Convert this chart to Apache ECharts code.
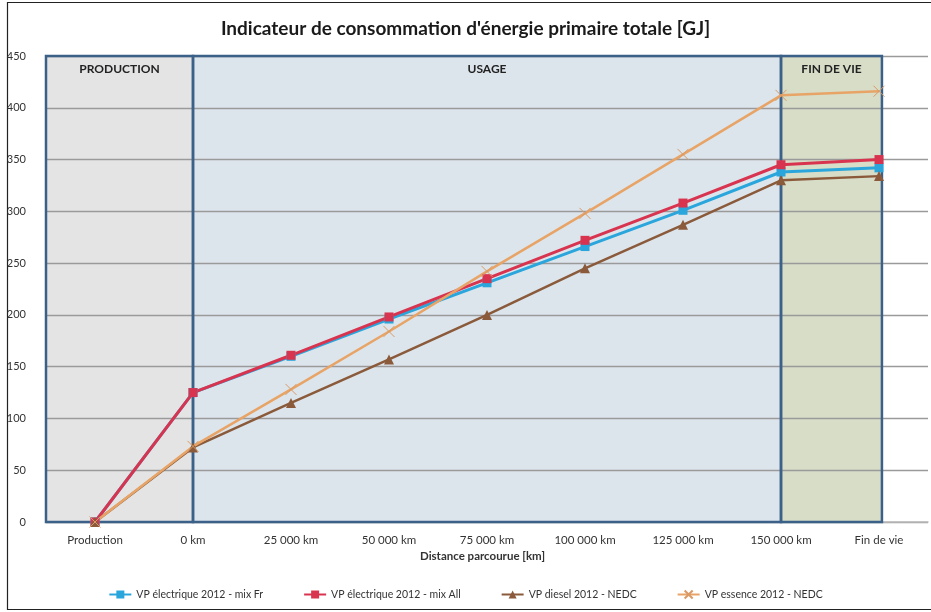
<!DOCTYPE html>
<html><head><meta charset="utf-8">
<script src="https://cdn.jsdelivr.net/npm/echarts@6/dist/echarts.min.js"></script>
<style>html,body{margin:0;padding:0;background:#fff}#c{width:931px;height:612px}</style>
</head><body><div id="c"></div>
<script>
const categories = ['Production','0 km','25 000 km','50 000 km','75 000 km','100 000 km','125 000 km','150 000 km','Fin de vie'];
const elecFr = [0,125,160,196,231,266,301,338,342];
const elecAll = [0,125,161,198,235,272,308,345,350];
const diesel = [0,72,115,157,200,245,287,330,334];
const essence = [0,73,128,184,242,298,355,412,416];
const seriesNames = ['VP électrique 2012 - mix Fr','VP électrique 2012 - mix All','VP diesel 2012 - NEDC','VP essence 2012 - NEDC'];
const phases = [
  {name:'PRODUCTION', from:-0.5, to:1, color:'#e4e4e4'},
  {name:'USAGE', from:1, to:7, color:'#dce5ec'},
  {name:'FIN DE VIE', from:7, to:8.03, color:'#d7ddc7'}
];
const font = 'Lato, "Open Sans", sans-serif';
const chart = echarts.init(document.getElementById('c'));
const cross = 'path://M0,0L10,10M10,0L0,10';
function lineSeries(name, data, color, symbol, size, width, extra) {
  return Object.assign({
    name, type:'line', data, xAxisIndex:0, yAxisIndex:0,
    symbol, symbolSize:size, showSymbol:true,
    lineStyle:{color, width},
    itemStyle:{color},
    z:3
  }, extra||{});
}
chart.setOption({
  animation:false,
  textStyle:{fontFamily:font},
  title:{text:"Indicateur de consommation d'énergie primaire totale [GJ]", left:'center', top:14,
    textStyle:{fontFamily:font, fontSize:19, fontWeight:'bold', color:'#1a1a1a'}},
  grid:{left:46, right:3, top:56, bottom:90, containLabel:false},
  legend:{bottom:7, left:'center', itemGap:40, itemWidth:22, itemHeight:10,
    textStyle:{fontSize:10.5, color:'#333', fontFamily:font},
    data:seriesNames},
  xAxis:[
    {type:'category', data:categories, boundaryGap:true,
     axisLine:{show:true, lineStyle:{color:'#bbbbbb', width:1.5}},
     axisTick:{show:false},
     axisLabel:{fontSize:11.5, color:'#333', margin:12, interval:0}},
    {type:'value', min:-0.5, max:8.5, show:false}
  ],
  yAxis:[{type:'value', min:0, max:450, interval:50,
    axisLine:{show:false}, axisTick:{show:false},
    axisLabel:{fontSize:11, color:'#333', margin:20},
    splitLine:{lineStyle:{color:'#9a9a9a', width:1.3}}}],
  graphic:[
    {type:'rect', shape:{x:7.5, y:2.5, width:940, height:607}, style:{fill:'none', stroke:'#222', lineWidth:1.2}, silent:true},
    {type:'text', left:420, top:550, style:{text:'Distance parcourue [km]', fontSize:11.5, fontWeight:'bold', fill:'#333', fontFamily:font}}
  ],
  series:[
    {type:'line', xAxisIndex:1, yAxisIndex:0, data:[], z:-5, silent:true,
     markArea:{silent:true, z:-5,
       data: phases.map(p => [{xAxis:p.from, yAxis:450, itemStyle:{color:p.color}, label:{show:false}}, {xAxis:p.to, yAxis:0}])}},
    {type:'line', xAxisIndex:1, yAxisIndex:0, data:[], z:2, silent:true,
     markArea:{silent:true,
       itemStyle:{color:'rgba(0,0,0,0)', borderColor:'#3b6189', borderWidth:2.5},
       label:{show:true, position:'insideTop', distance:8, fontSize:12, fontWeight:'bold', color:'#222', fontFamily:font},
       data: phases.map(p => [{xAxis:p.from, yAxis:450, name:p.name}, {xAxis:p.to, yAxis:0}])}},
    lineSeries(seriesNames[0], elecFr, '#2aa6dc', 'rect', 9, 3),
    lineSeries(seriesNames[1], elecAll, '#d8344f', 'rect', 9, 3),
    lineSeries(seriesNames[2], diesel, '#8a5a3b', 'triangle', 10, 2.5),
    lineSeries(seriesNames[3], essence, '#e8a467', cross, 11, 2.5, {itemStyle:{color:'#e8a467', borderColor:'#d99a66', borderWidth:1}})
  ]
});
</script></body></html>
